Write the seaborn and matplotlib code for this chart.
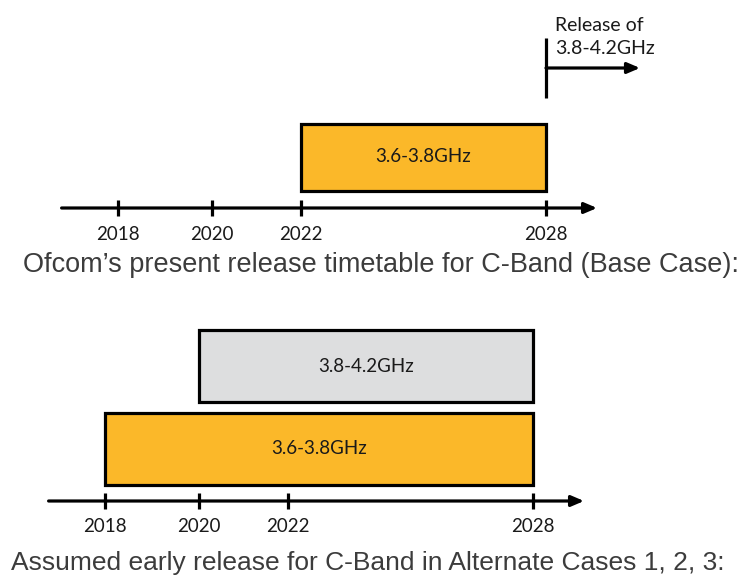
import numpy as np
import matplotlib
matplotlib.use("Agg")
import matplotlib.pyplot as plt
import seaborn as sns

# Timeline data
base_ticks = [2018, 2020, 2022, 2028]
base_bands = ["3.6-3.8GHz"]
base_start = [2022]
base_end = [2028]
base_colors = ["#FBB829"]
release_year = 2028
release_label = "Release of\n3.8-4.2GHz"

alt_ticks = [2018, 2020, 2022, 2028]
alt_bands = ["3.6-3.8GHz", "3.8-4.2GHz"]
alt_start = [2018, 2020]
alt_end = [2028, 2028]
alt_colors = ["#FBB829", "#DDDEDF"]

captions = [
    "Ofcom\u2019s present release timetable for C-Band (Base Case):",
    "Assumed early release for C-Band in Alternate Cases 1, 2, 3:",
]

sns.set_style("white")
plt.rcParams["font.family"] = ["Lato", "DejaVu Sans"]

W, H = 744, 576
fig = plt.figure(figsize=(W / 100, H / 100), dpi=100)

# Piecewise year -> pixel mapping (the timeline is not drawn to a linear scale)
knot_years = np.array([2015.0, 2018.0, 2020.0, 2022.0, 2028.0, 2034.0])
knot_px = np.array([-23.0, 118.0, 212.0, 301.0, 546.0, 791.0])


def fwd(x):
    return np.interp(x, knot_years, knot_px)


def inv(p):
    return np.interp(p, knot_px, knot_years)


LW = 2.3
TL_START, TL_END = 2016.8, 2029.25
ARROW = "-|>,head_length=0.75,head_width=0.32"
TEXT_C = "#1a1a1a"
CAP_C = "#3c3c3c"


def panel(ax, ticks, bands, starts, ends, colors, rows_y, bar_h, axis_y, label_y):
    ax.set_xscale("function", functions=(fwd, inv))
    ax.set_xlim(inv(0), inv(W))
    ax.axis("off")
    for b, s, e, c, yc in zip(bands, starts, ends, colors, rows_y):
        ax.barh(yc, e - s, left=s, height=bar_h, color=c,
                edgecolor="black", linewidth=LW, zorder=3)
        xm = inv((fwd(s) + fwd(e)) / 2)
        ax.text(xm, yc, b, ha="center", va="center", fontsize=13.5,
                color=TEXT_C, zorder=4)
    # timeline axis with arrow
    ax.annotate("", xy=(TL_END, axis_y), xytext=(TL_START, axis_y),
                arrowprops=dict(arrowstyle=ARROW, color="black", lw=LW,
                                shrinkA=0, shrinkB=0))
    for t in ticks:
        ax.plot([t, t], [axis_y - 8, axis_y + 8], color="black", lw=LW,
                solid_capstyle="butt")
        ax.text(t, label_y, str(t), ha="center", va="center", fontsize=13.5,
                color=TEXT_C)


# Top panel: pixel rows 0..290
ax1 = fig.add_axes([0, 1 - 290 / H, 1, 290 / H])
ax1.set_ylim(290, 0)
panel(ax1, base_ticks, base_bands, base_start, base_end, base_colors,
      rows_y=[157], bar_h=67, axis_y=208, label_y=235)

# Release marker
ax1.plot([release_year, release_year], [38, 98], color="black", lw=LW,
         solid_capstyle="butt")
ax1.annotate("", xy=(inv(640), 68), xytext=(release_year, 68),
             arrowprops=dict(arrowstyle=ARROW, color="black", lw=LW,
                             shrinkA=0, shrinkB=0))
ax1.text(inv(555), 37, release_label, ha="left", va="center", fontsize=14,
         color=TEXT_C, linespacing=1.4)

ax1.text(23 / W, 1 - 265 / 290, captions[0], transform=ax1.transAxes,
         ha="left", va="center", fontsize=19.5, color=CAP_C,
         family=["Liberation Sans", "DejaVu Sans"])

# Bottom panel: pixel rows 290..576, shifted 13 px left
ax2 = fig.add_axes([-13 / W, 0, 1, 286 / H])
ax2.set_ylim(576, 290)
panel(ax2, alt_ticks, alt_bands, alt_start, alt_end, alt_colors,
      rows_y=[449, 366], bar_h=72, axis_y=501, label_y=527)

ax2.text((11 + 13) / W, 1 - (563 - 290) / 286, captions[1],
         transform=ax2.transAxes, ha="left", va="center", fontsize=19,
         color=CAP_C, family=["Liberation Sans", "DejaVu Sans"])

fig.savefig("out.png", dpi=100)
